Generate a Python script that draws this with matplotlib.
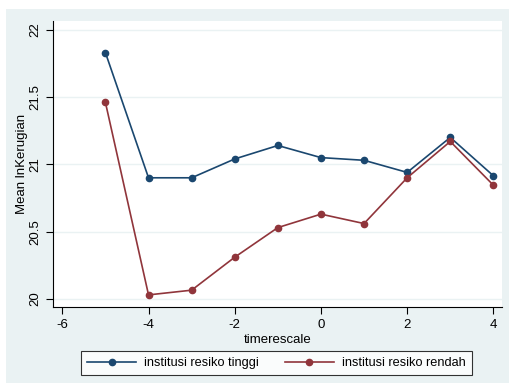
import matplotlib
matplotlib.use("Agg")
import matplotlib.pyplot as plt
from matplotlib.patches import Rectangle

plt.rcParams['font.family'] = ['Liberation Sans', 'DejaVu Sans']

timerescale = [-5, -4, -3, -2, -1, 0, 1, 2, 3, 4]
tinggi = [21.83, 20.90, 20.90, 21.04, 21.14, 21.05, 21.03, 20.94, 21.20, 20.915]
rendah = [21.46, 20.03, 20.065, 20.31, 20.53, 20.63, 20.56, 20.90, 21.17, 20.845]
labels = ["institusi resiko tinggi", "institusi resiko rendah"]
xticks = [-6, -4, -2, 0, 2, 4]
yticks = [20, 20.5, 21, 21.5, 22]

W, H = 509, 383
fig = plt.figure(figsize=(W / 100, H / 100), dpi=100, facecolor="white")
bg = "#eaf2f3"
bgax = fig.add_axes([6 / W, 0, 1 - 6 / W, (H - 9) / H])
bgax.set_facecolor(bg)
bgax.set_axis_off()
bgax.add_patch(Rectangle((0, 0), 1, 1, transform=bgax.transAxes, facecolor=bg, edgecolor="none"))
bgax.set_zorder(0)

ax = fig.add_axes([53 / W, (H - 307) / H, (502 - 53) / W, (307 - 21) / H])
ax.set_zorder(1)
ax.set_facecolor("white")
blue = "#1a476f"
red = "#90353b"
l1, = ax.plot(timerescale, tinggi, color=blue, lw=1.2, marker="o", ms=4.5, label=labels[0])
l2, = ax.plot(timerescale, rendah, color=red, lw=1.2, marker="o", ms=4.5, label=labels[1])

ax.set_xlim(-6.216, 4.2)
ax.set_ylim(19.94, 22.065)
ax.set_xticks(xticks)
ax.set_xticklabels([str(t) for t in xticks])
ax.set_yticks(yticks)
ax.set_yticklabels(["20", "20.5", "21", "21.5", "22"], rotation=90, va="center")
ax.grid(axis="y", color=bg, lw=1.0)
ax.set_axisbelow(True)
for s in ["top", "right"]:
    ax.spines[s].set_visible(False)
for s in ["left", "bottom"]:
    ax.spines[s].set_color("black")
    ax.spines[s].set_linewidth(0.8)
ax.tick_params(axis="both", direction="out", length=5, width=0.8, labelsize=9.5, color="black")
ax.set_xlabel("timerescale", fontsize=9.5, labelpad=2)
ax.set_ylabel("Mean lnKerugian", fontsize=9.5, va="center")
ax.yaxis.set_label_coords(-0.069, 0.5)

leg = fig.legend(handles=[l1, l2], loc="center", bbox_to_anchor=(276.5 / W, (H - 363) / H),
                 ncol=2, frameon=True, fancybox=False, fontsize=9.2, handlelength=3.85,
                 columnspacing=2.0, borderpad=0.5, handletextpad=0.65)
leg.set_zorder(5)
leg.get_frame().set_edgecolor("black")
leg.get_frame().set_linewidth(0.8)
leg.get_frame().set_facecolor("white")

fig.savefig("out.png", dpi=100, facecolor=fig.get_facecolor())
